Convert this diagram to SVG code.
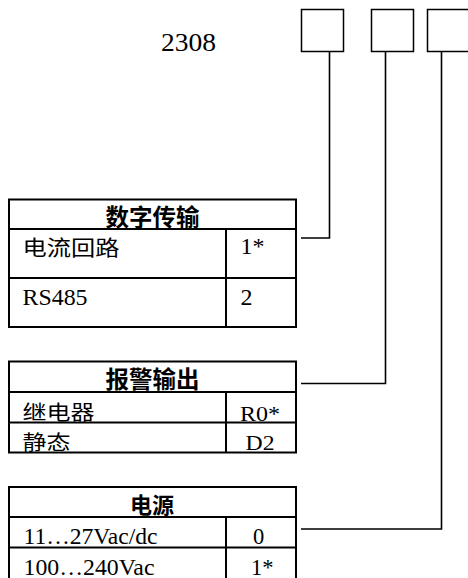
<svg xmlns="http://www.w3.org/2000/svg" width="468" height="578" viewBox="0 0 468 578">
<style>
.box{fill:none;stroke:#000;stroke-width:1.5}
.tb{fill:none;stroke:#000;stroke-width:2}
.conn{fill:none;stroke:#000;stroke-width:1.6}
.hd{font-family:"Noto Sans CJK SC","Noto Sans",sans-serif;font-weight:bold;fill:#000;text-anchor:middle}
.cn{font-family:"Noto Sans CJK SC","Noto Sans",sans-serif;fill:#000}
.lt{font-family:"Liberation Serif","Times New Roman",serif;fill:#000}
</style>
<rect width="468" height="578" fill="#fff"/>
<g id="title"><text class="lt" x="161" y="50.5" font-size="26" textLength="55" lengthAdjust="spacingAndGlyphs">2308</text></g>
<g id="slot1"><rect class="box" x="301.5" y="9.5" width="42" height="42"/></g>
<g id="slot2"><rect class="box" x="371.5" y="9.5" width="42" height="42"/></g>
<g id="slot3"><rect class="box" x="427.5" y="9.5" width="44" height="42"/></g>
<g id="connectors">
<polyline class="conn" points="329.5,51.5 329.5,238 301,238"/>
<polyline class="conn" points="385.5,51.5 385.5,383.5 301,383.5"/>
<polyline class="conn" points="441.5,51.5 441.5,529 301,529"/>
</g>
<g id="table-digital">
<rect class="tb" x="9" y="199.5" width="287" height="127.5"/>
<line class="tb" x1="9" y1="229" x2="296" y2="229"/>
<line class="tb" x1="9" y1="278" x2="296" y2="278"/>
<line class="tb" x1="226" y1="229" x2="226" y2="327"/>
<text class="hd" x="152.5" y="226" font-size="23.5">数字传输</text>
<text class="cn" x="22.5" y="255" font-size="21" textLength="97" lengthAdjust="spacingAndGlyphs">电流回路</text>
<text class="lt" x="240.5" y="254" font-size="24">1*</text>
<text class="lt" x="22.5" y="305" font-size="24" textLength="65" lengthAdjust="spacingAndGlyphs">RS485</text>
<text class="lt" x="240.5" y="305" font-size="24">2</text>
</g>
<g id="table-alarm">
<rect class="tb" x="9" y="361.5" width="287" height="91"/>
<line class="tb" x1="9" y1="392" x2="296" y2="392"/>
<line class="tb" x1="9" y1="422.5" x2="296" y2="422.5"/>
<line class="tb" x1="226" y1="392" x2="226" y2="452.5"/>
<text class="hd" x="152.5" y="388" font-size="23.5">报警输出</text>
<text class="cn" x="22.5" y="420" font-size="20" textLength="72" lengthAdjust="spacingAndGlyphs">继电器</text>
<text class="lt" x="240" y="421" font-size="21" textLength="40" lengthAdjust="spacingAndGlyphs">R0*</text>
<text class="cn" x="22.5" y="450" font-size="20" textLength="48" lengthAdjust="spacingAndGlyphs">静态</text>
<text class="lt" x="245.5" y="450" font-size="20" textLength="29" lengthAdjust="spacingAndGlyphs">D2</text>
</g>
<g id="table-power">
<rect class="tb" x="9" y="487" width="287" height="93"/>
<line class="tb" x1="9" y1="517" x2="296" y2="517"/>
<line class="tb" x1="9" y1="547.5" x2="296" y2="547.5"/>
<line class="tb" x1="226" y1="517" x2="226" y2="580"/>
<text class="hd" x="152" y="513" font-size="22">电源</text>
<text class="lt" x="23.5" y="544.3" font-size="22.5" textLength="134" lengthAdjust="spacingAndGlyphs">11…27Vac/dc</text>
<text class="lt" x="253" y="544.3" font-size="22.5">0</text>
<text class="lt" x="23.5" y="575" font-size="22.5" textLength="131" lengthAdjust="spacingAndGlyphs">100…240Vac</text>
<text class="lt" x="251" y="575" font-size="22.5">1*</text>
</g>
</svg>
